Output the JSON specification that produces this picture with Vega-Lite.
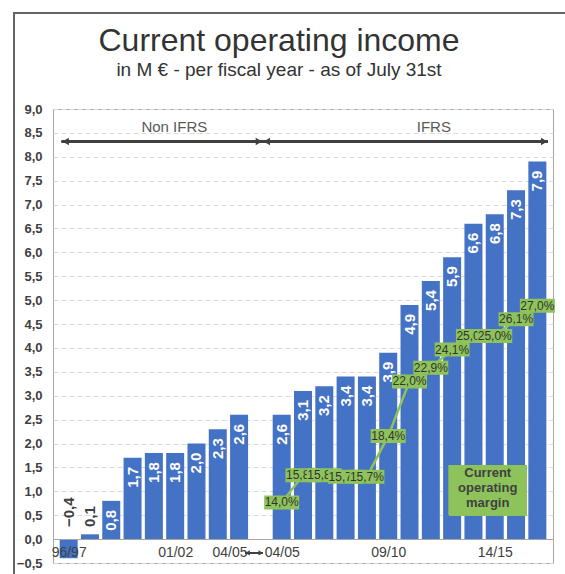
{
  "$schema": "https://vega.github.io/schema/vega-lite/v6.json",
  "width": 500,
  "height": 454,
  "autosize": {"type": "none"},
  "padding": {"left": 53, "top": 109, "right": 12, "bottom": 11},
  "background": "white",
  "config": {"font": "Liberation Sans", "view": {"stroke": "#a6a6a6", "strokeWidth": 1}},
  "title": {
    "text": "Current operating income",
    "subtitle": "in M € - per fiscal year - as of July 31st",
    "fontSize": 32,
    "fontWeight": "normal",
    "color": "#333333",
    "subtitleFontSize": 19,
    "subtitleColor": "#333333",
    "subtitleFont": "Liberation Sans",
    "anchor": "middle",
    "frame": "group",
    "dx": -24,
    "offset": -69,
    "subtitlePadding": 3
  },
  "datasets": {
    "bars": [
      {"i": 0, "v": -0.4}, {"i": 1, "v": 0.1}, {"i": 2, "v": 0.8}, {"i": 3, "v": 1.7},
      {"i": 4, "v": 1.8}, {"i": 5, "v": 1.8}, {"i": 6, "v": 2.0}, {"i": 7, "v": 2.3},
      {"i": 8, "v": 2.6}, {"i": 10, "v": 2.6}, {"i": 11, "v": 3.1}, {"i": 12, "v": 3.2},
      {"i": 13, "v": 3.4}, {"i": 14, "v": 3.4}, {"i": 15, "v": 3.9}, {"i": 16, "v": 4.9},
      {"i": 17, "v": 5.4}, {"i": 18, "v": 5.9}, {"i": 19, "v": 6.6}, {"i": 20, "v": 6.8},
      {"i": 21, "v": 7.3}, {"i": 22, "v": 7.9}
    ],
    "margin": [
      {"i": 10, "m": 14.0}, {"i": 11, "m": 15.8}, {"i": 12, "m": 15.8}, {"i": 13, "m": 15.7},
      {"i": 14, "m": 15.7}, {"i": 15, "m": 18.4}, {"i": 16, "m": 22.0}, {"i": 17, "m": 22.9},
      {"i": 18, "m": 24.1}, {"i": 19, "m": 25.0}, {"i": 20, "m": 25.0}, {"i": 21, "m": 26.1},
      {"i": 22, "m": 27.0}
    ]
  },
  "resolve": {"scale": {"y": "independent"}},
  "layer": [
    {
      "data": {"name": "bars"},
      "mark": {"type": "rect", "fill": null, "stroke": "#666666", "strokeWidth": 1.5},
      "encoding": {
        "x": {"datum": -2.57, "type": "quantitative", "scale": {"domain": [-0.5, 22.5], "nice": false, "zero": false}},
        "x2": {"datum": 25},
        "y": {"datum": 11.01, "type": "quantitative", "scale": {"domain": [-0.5, 9], "nice": false, "zero": false}, "axis": null},
        "y2": {"datum": -1.2}
      }
    },
    {
      "data": {"name": "bars"},
      "mark": {"type": "bar", "width": 18, "color": "#4472c4"},
      "encoding": {
        "x": {
          "field": "i", "type": "quantitative",
          "scale": {"domain": [-0.5, 22.5], "nice": false, "zero": false},
          "axis": {
            "values": [0, 5, 7.55, 10, 15, 20],
            "labelExpr": "datum.value == 0 ? '96/97' : datum.value == 5 ? '01/02' : datum.value == 15 ? '09/10' : datum.value == 20 ? '14/15' : '04/05'",
            "offset": -24, "grid": false, "ticks": false, "tickSize": 0, "domain": true,
            "domainColor": "#a6a6a6", "labelFontSize": 14, "labelColor": "#404040",
            "labelPadding": 6, "title": null, "labelFlush": false, "labelOverlap": false, "zindex": 1
          }
        },
        "y": {
          "field": "v", "type": "quantitative",
          "scale": {"domain": [-0.5, 9], "nice": false, "zero": false},
          "axis": {
            "values": [-0.5, 0, 0.5, 1, 1.5, 2, 2.5, 3, 3.5, 4, 4.5, 5, 5.5, 6, 6.5, 7, 7.5, 8, 8.5, 9],
            "labelExpr": "replace(format(datum.value, '.1f'), '.', ',')",
            "labelFontWeight": "bold", "labelFontSize": 13, "labelColor": "#404040",
            "ticks": false, "tickSize": 0, "labelPadding": 11, "domain": false,
            "grid": true, "gridColor": "#d9d9d9", "gridDash": [5, 3], "title": null
          }
        }
      }
    },
    {
      "data": {"name": "bars"},
      "transform": [{"filter": "datum.v >= 0.5"}, {"calculate": "replace(format(datum.v, '.1f'), '.', ',')", "as": "lbl"}],
      "mark": {"type": "text", "angle": 270, "align": "right", "baseline": "middle", "dx": -9, "color": "white", "fontWeight": "bold", "fontSize": 15},
      "encoding": {
        "x": {"field": "i", "type": "quantitative", "scale": {"domain": [-0.5, 22.5], "nice": false, "zero": false}},
        "y": {"field": "v", "type": "quantitative", "scale": {"domain": [-0.5, 9], "nice": false, "zero": false}, "axis": null},
        "text": {"field": "lbl"}
      }
    },
    {
      "data": {"name": "bars"},
      "transform": [{"filter": "datum.v < 0.5"}, {"calculate": "replace(format(datum.v, '.1f'), '.', ',')", "as": "lbl"}],
      "mark": {"type": "text", "angle": 270, "align": "left", "baseline": "middle", "dx": 12, "color": "#404040", "fontWeight": "bold", "fontSize": 15},
      "encoding": {
        "x": {"field": "i", "type": "quantitative", "scale": {"domain": [-0.5, 22.5], "nice": false, "zero": false}},
        "y": {"datum": 0, "type": "quantitative", "scale": {"domain": [-0.5, 9], "nice": false, "zero": false}, "axis": null},
        "text": {"field": "lbl"}
      }
    },
    {
      "data": {"name": "bars"},
      "mark": {"type": "rule", "color": "#404040", "strokeWidth": 1.5},
      "encoding": {
        "x": {"datum": -0.32, "type": "quantitative", "scale": {"domain": [-0.5, 22.5], "nice": false, "zero": false}},
        "x2": {"datum": 22.5},
        "y": {"datum": 8.32, "type": "quantitative", "scale": {"domain": [-0.5, 9], "nice": false, "zero": false}, "axis": null}
      }
    },
    {
      "data": {"values": [{"s": "triangle-left", "x": -0.14}, {"s": "triangle-right", "x": 8.93}, {"s": "triangle-left", "x": 9.3}, {"s": "triangle-right", "x": 22.32}]},
      "mark": {"type": "point", "filled": true, "color": "#404040", "size": 55, "opacity": 1},
      "encoding": {
        "x": {"field": "x", "type": "quantitative", "scale": {"domain": [-0.5, 22.5], "nice": false, "zero": false}},
        "y": {"datum": 8.32, "type": "quantitative", "scale": {"domain": [-0.5, 9], "nice": false, "zero": false}, "axis": null},
        "shape": {"field": "s", "type": "nominal", "scale": null}
      }
    },
    {
      "data": {"values": [{"t": "Non IFRS", "x": 4.96}, {"t": "IFRS", "x": 17.14}]},
      "mark": {"type": "text", "fontSize": 15, "color": "#595959", "baseline": "middle", "align": "center"},
      "encoding": {
        "x": {"field": "x", "type": "quantitative", "scale": {"domain": [-0.5, 22.5], "nice": false, "zero": false}},
        "y": {"datum": 8.62, "type": "quantitative", "scale": {"domain": [-0.5, 9], "nice": false, "zero": false}, "axis": null},
        "text": {"field": "t"}
      }
    },
    {
      "data": {"name": "bars"},
      "mark": {"type": "rule", "color": "#404040", "strokeWidth": 1.3},
      "encoding": {
        "x": {"datum": 8.3, "type": "quantitative", "scale": {"domain": [-0.5, 22.5], "nice": false, "zero": false}},
        "x2": {"datum": 9.12},
        "y": {"datum": -0.29, "type": "quantitative", "scale": {"domain": [-0.5, 9], "nice": false, "zero": false}, "axis": null}
      }
    },
    {
      "data": {"values": [{"s": "triangle-left", "x": 8.4}, {"s": "triangle-right", "x": 9.02}]},
      "mark": {"type": "point", "filled": true, "color": "#404040", "size": 28, "opacity": 1},
      "encoding": {
        "x": {"field": "x", "type": "quantitative", "scale": {"domain": [-0.5, 22.5], "nice": false, "zero": false}},
        "y": {"datum": -0.29, "type": "quantitative", "scale": {"domain": [-0.5, 9], "nice": false, "zero": false}, "axis": null},
        "shape": {"field": "s", "type": "nominal", "scale": null}
      }
    },
    {
      "data": {"name": "margin"},
      "mark": {"type": "line", "color": "#8dc35a", "strokeWidth": 2.5},
      "encoding": {
        "x": {"field": "i", "type": "quantitative", "scale": {"domain": [-0.5, 22.5], "nice": false, "zero": false}},
        "y": {"field": "m", "type": "quantitative", "scale": {"domain": [10, 40], "nice": false, "zero": false}, "axis": null}
      }
    },
    {
      "data": {"name": "margin"},
      "transform": [{"filter": {"field": "i", "oneOf": [10, 11, 15, 16, 17, 18, 19, 21, 22]}}, {"calculate": "replace(format(datum.m, '.1f'), '.', ',') + '%'", "as": "lbl"}],
      "layer": [
        {"mark": {"type": "point", "shape": "M-1,-0.4H1V0.4H-1Z", "size": 1225, "filled": true, "fill": "#8dc35a", "opacity": 1, "strokeWidth": 0}},
        {"mark": {"type": "text", "fontSize": 12, "color": "#333333", "align": "center", "baseline": "middle"},
         "encoding": {"text": {"field": "lbl"}}}
      ],
      "encoding": {
        "x": {"field": "i", "type": "quantitative", "scale": {"domain": [-0.5, 22.5], "nice": false, "zero": false}},
        "y": {"field": "m", "type": "quantitative", "scale": {"domain": [10, 40], "nice": false, "zero": false}, "axis": null}
      }
    },
    {
      "data": {"name": "margin"},
      "transform": [{"filter": {"field": "i", "oneOf": [12, 20]}}, {"calculate": "replace(format(datum.m, '.1f'), '.', ',') + '%'", "as": "lbl"}],
      "layer": [
        {"mark": {"type": "point", "shape": "M-1,-0.4H1V0.4H-1Z", "size": 1225, "filled": true, "fill": "#8dc35a", "opacity": 1, "strokeWidth": 0}},
        {"mark": {"type": "text", "fontSize": 12, "color": "#333333", "align": "center", "baseline": "middle"},
         "encoding": {"text": {"field": "lbl"}}}
      ],
      "encoding": {
        "x": {"field": "i", "type": "quantitative", "scale": {"domain": [-0.5, 22.5], "nice": false, "zero": false}},
        "y": {"field": "m", "type": "quantitative", "scale": {"domain": [10, 40], "nice": false, "zero": false}, "axis": null}
      }
    },
    {
      "data": {"name": "margin"},
      "transform": [{"filter": {"field": "i", "oneOf": [13]}}, {"calculate": "replace(format(datum.m, '.1f'), '.', ',') + '%'", "as": "lbl"}],
      "layer": [
        {"mark": {"type": "point", "shape": "M-1,-0.4H1V0.4H-1Z", "size": 1225, "filled": true, "fill": "#8dc35a", "opacity": 1, "strokeWidth": 0}},
        {"mark": {"type": "text", "fontSize": 12, "color": "#333333", "align": "center", "baseline": "middle"},
         "encoding": {"text": {"field": "lbl"}}}
      ],
      "encoding": {
        "x": {"field": "i", "type": "quantitative", "scale": {"domain": [-0.5, 22.5], "nice": false, "zero": false}},
        "y": {"field": "m", "type": "quantitative", "scale": {"domain": [10, 40], "nice": false, "zero": false}, "axis": null}
      }
    },
    {
      "data": {"name": "margin"},
      "transform": [{"filter": {"field": "i", "oneOf": [14]}}, {"calculate": "replace(format(datum.m, '.1f'), '.', ',') + '%'", "as": "lbl"}],
      "layer": [
        {"mark": {"type": "point", "shape": "M-1,-0.4H1V0.4H-1Z", "size": 1225, "filled": true, "fill": "#8dc35a", "opacity": 1, "strokeWidth": 0}},
        {"mark": {"type": "text", "fontSize": 12, "color": "#333333", "align": "center", "baseline": "middle"},
         "encoding": {"text": {"field": "lbl"}}}
      ],
      "encoding": {
        "x": {"field": "i", "type": "quantitative", "scale": {"domain": [-0.5, 22.5], "nice": false, "zero": false}},
        "y": {"field": "m", "type": "quantitative", "scale": {"domain": [10, 40], "nice": false, "zero": false}, "axis": null}
      }
    },
    {
      "data": {"name": "bars"},
      "mark": {"type": "rect", "fill": "#8dc35a"},
      "encoding": {
        "x": {"datum": 17.85, "type": "quantitative", "scale": {"domain": [-0.5, 22.5], "nice": false, "zero": false}},
        "x2": {"datum": 21.49},
        "y": {"datum": 1.55, "type": "quantitative", "scale": {"domain": [-0.5, 9], "nice": false, "zero": false}, "axis": null},
        "y2": {"datum": 0.5}
      }
    },
    {
      "data": {"values": [{"t": "Current\noperating\nmargin"}]},
      "mark": {"type": "text", "fontSize": 13, "fontWeight": "bold", "color": "#404040", "align": "center", "baseline": "middle", "lineBreak": "\n", "lineHeight": 15},
      "encoding": {
        "x": {"datum": 19.67, "type": "quantitative", "scale": {"domain": [-0.5, 22.5], "nice": false, "zero": false}},
        "y": {"datum": 1.383, "type": "quantitative", "scale": {"domain": [-0.5, 9], "nice": false, "zero": false}, "axis": null},
        "text": {"field": "t"}
      }
    }
  ]
}
